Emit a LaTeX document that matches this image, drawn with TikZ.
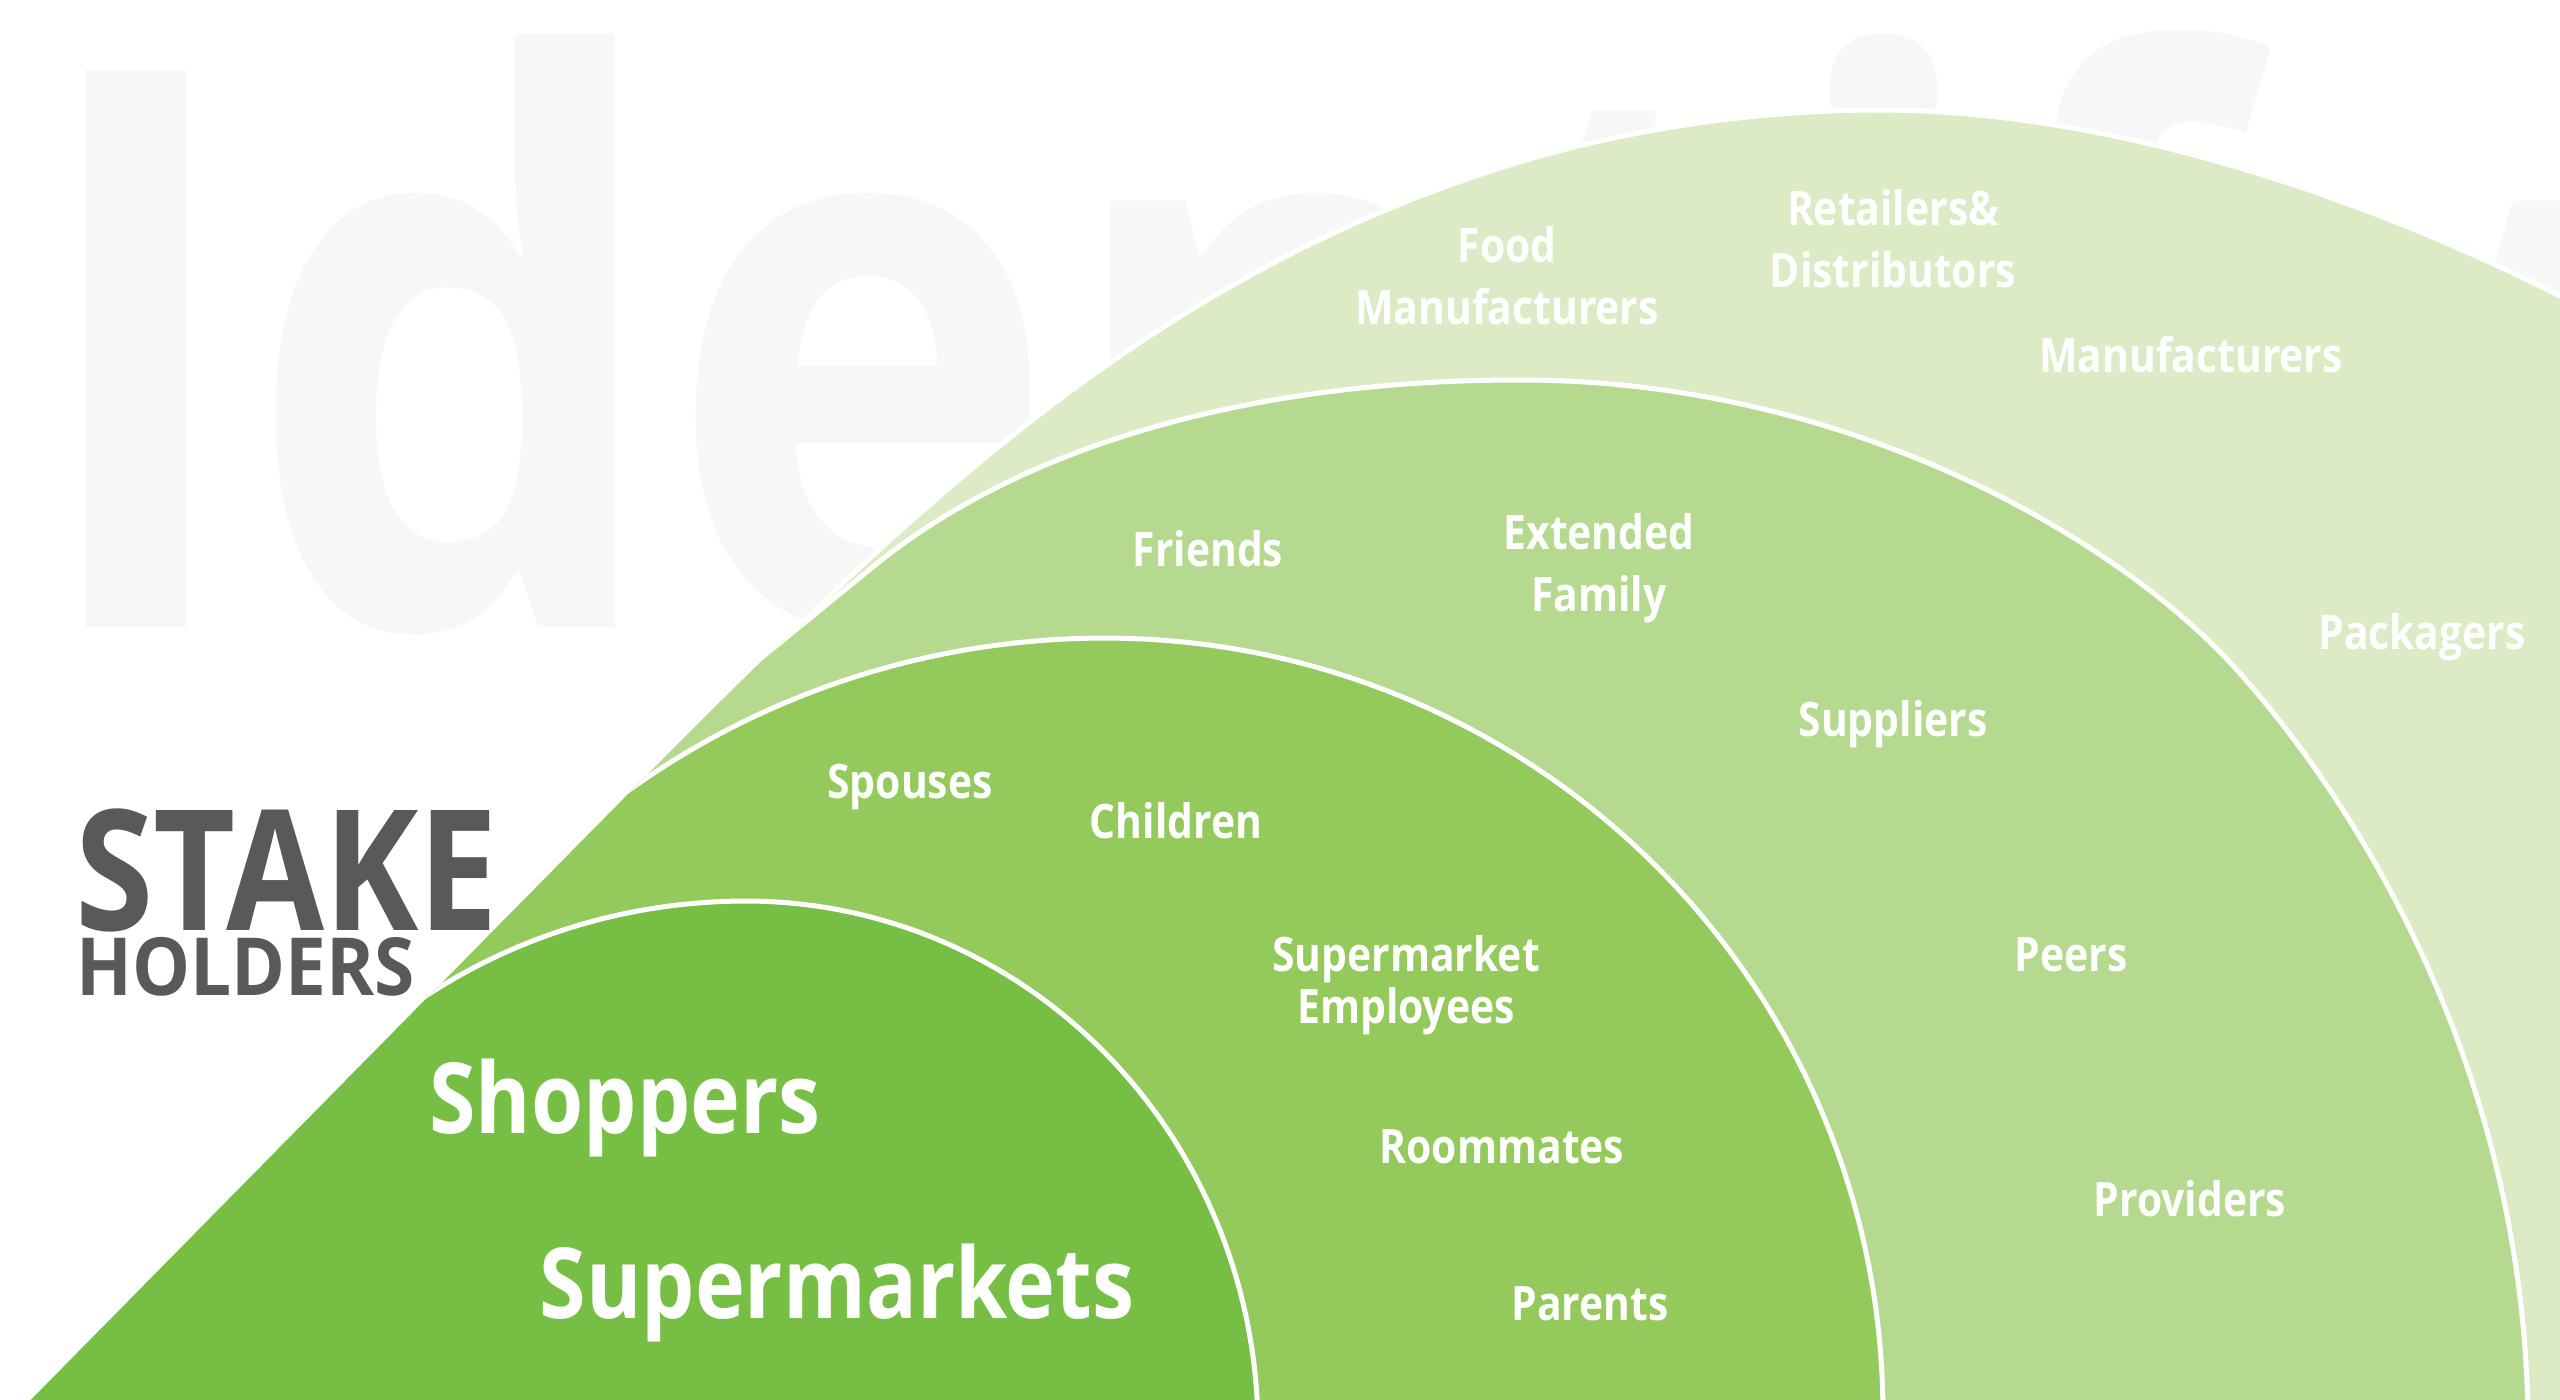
\documentclass[tikz,border=0pt]{standalone}
\usepackage{fontspec}
\setmainfont{Open Sans}
\newfontfamily\lblfont[FakeStretch=0.86]{Open Sans}
\newfontfamily\stakefont[FakeStretch=0.845]{Open Sans}
\newfontfamily\holdfont[FakeStretch=0.91]{Open Sans}
\newfontfamily\wmfont[FakeStretch=0.85]{Open Sans}
\definecolor{gA}{HTML}{76BF44}
\definecolor{gB}{HTML}{94C95C}
\definecolor{gC}{HTML}{B5D98F}
\definecolor{gD}{HTML}{DCEBC6}
\definecolor{wm}{HTML}{F7F7F7}
\definecolor{stk}{HTML}{58595B}
\tikzset{
  lbl/.style={text=white, inner sep=0pt, outer sep=0pt, align=center,
    font=\lblfont\bfseries\fontsize{13.5}{17.6}\selectfont},
  biglbl/.style={text=white, inner sep=0pt, outer sep=0pt,
    font=\lblfont\bfseries\fontsize{27.9}{33}\selectfont},
  rim/.style={draw=white, line width=0.05cm, line join=round},
}
\def\outerpath{(-40,1472) -- (428,997) -- (640,782) .. controls (920,500) and (1150,280) .. (1500,168) .. controls (1625,128) and (1760,110) .. (1880,110) .. controls (2100,110) and (2350,190) .. (2560,296) -- (2760,400) -- (2760,1650) -- (-40,1650) -- cycle}
\def\arcC{(300,1034) -- (874,566) .. controls (1010,455) and (1230,380) .. (1520,380) .. controls (1850,380) and (2120,540) .. (2237,670) .. controls (2380,830) and (2528,1100) .. (2528,1430) -- (2528,1650)}
\begin{document}
\begin{tikzpicture}[x=0.01cm, y=-0.01cm]
\useasboundingbox (0,0) rectangle (2560,1400);
\fill[white] (0,0) rectangle (2560,1400);
\begin{scope}
\clip (0,0) rectangle (2560,1400);
% watermark
\node[anchor=base west, inner sep=0pt, text=wm, font=\wmfont\bfseries\fontsize{222}{222}\selectfont] (wmark) at (26,627) {Identify};
% outer layer
\fill[gD] \outerpath;
\draw[rim] \outerpath;
\begin{scope}
\clip \outerpath;
% layer C
\fill[gC] (-300,1650) -- \arcC -- cycle;
\draw[rim] \arcC;
% layer B
\fill[gB] (-300,1650) -- (213.6,1148) -- plot[domain=228:270, samples=40, variable=\t] ({1105+800*cos(\t)},{1413+775*sin(\t)}) -- plot[domain=270:360, samples=60, variable=\t] ({1105+778*cos(\t)},{1413+775*sin(\t)}) -- (1883,1650) -- cycle;
\draw[rim] (213.6,1148) -- plot[domain=228:270, samples=40, variable=\t] ({1105+800*cos(\t)},{1413+775*sin(\t)}) -- plot[domain=270:360, samples=60, variable=\t] ({1105+778*cos(\t)},{1413+775*sin(\t)}) -- (1883,1650);
% layer A
\fill[gA] (-300,1650) -- (121.6,1249.3) -- plot[domain=228:270, samples=40, variable=\t] ({746+560*cos(\t)},{1430+529*sin(\t)}) -- plot[domain=270:360, samples=60, variable=\t] ({746+512*cos(\t)},{1430+529*sin(\t)}) -- (1258,1650) -- cycle;
\draw[rim] (121.6,1249.3) -- plot[domain=228:270, samples=40, variable=\t] ({746+560*cos(\t)},{1430+529*sin(\t)}) -- plot[domain=270:360, samples=60, variable=\t] ({746+512*cos(\t)},{1430+529*sin(\t)}) -- (1258,1650);
\end{scope}
\end{scope}
% title
\node[anchor=base west, inner sep=0pt, text=stk, font=\stakefont\bfseries\fontsize{47.8}{50}\selectfont] (stake) at (75,930) {STAKE};
\node[anchor=base west, inner sep=0pt, text=stk, font=\holdfont\bfseries\fontsize{22.8}{25}\selectfont] (holders) at (76,995) {HOLDERS};
% labels
\node[lbl] (food) at (1507,276) {Food\\Manufacturers};
\node[lbl] (retail) at (1893,239) {Retailers\&\\Distributors};
\node[lbl, anchor=base] (manu) at (2191,373) {Manufacturers};
\node[lbl, anchor=base] (pack) at (2422,649) {Packagers};
\node[lbl, anchor=base] (friends) at (1208,566) {Friends};
\node[lbl] (ext) at (1599,568) {Extended\\Family};
\node[lbl, anchor=base] (supp) at (1893,736) {Suppliers};
\node[lbl, anchor=base] (peers) at (2071,971) {Peers};
\node[lbl, anchor=base] (prov) at (2190,1216) {Providers};
\node[lbl, anchor=base] (spouses) at (910,798) {Spouses};
\node[lbl, anchor=base] (children) at (1176,838) {Children};
\node[lbl, font=\lblfont\bfseries\fontsize{13.5}{14.8}\selectfont] (emp) at (1406,985) {Supermarket\\Employees};
\node[lbl, anchor=base] (room) at (1502,1163) {Roommates};
\node[lbl, anchor=base] (parents) at (1590,1320) {Parents};
\node[biglbl, anchor=base] (shop) at (625,1133) {Shoppers};
\node[biglbl, anchor=base] (smkt) at (837,1318) {Supermarkets};
\end{tikzpicture}
\end{document}
